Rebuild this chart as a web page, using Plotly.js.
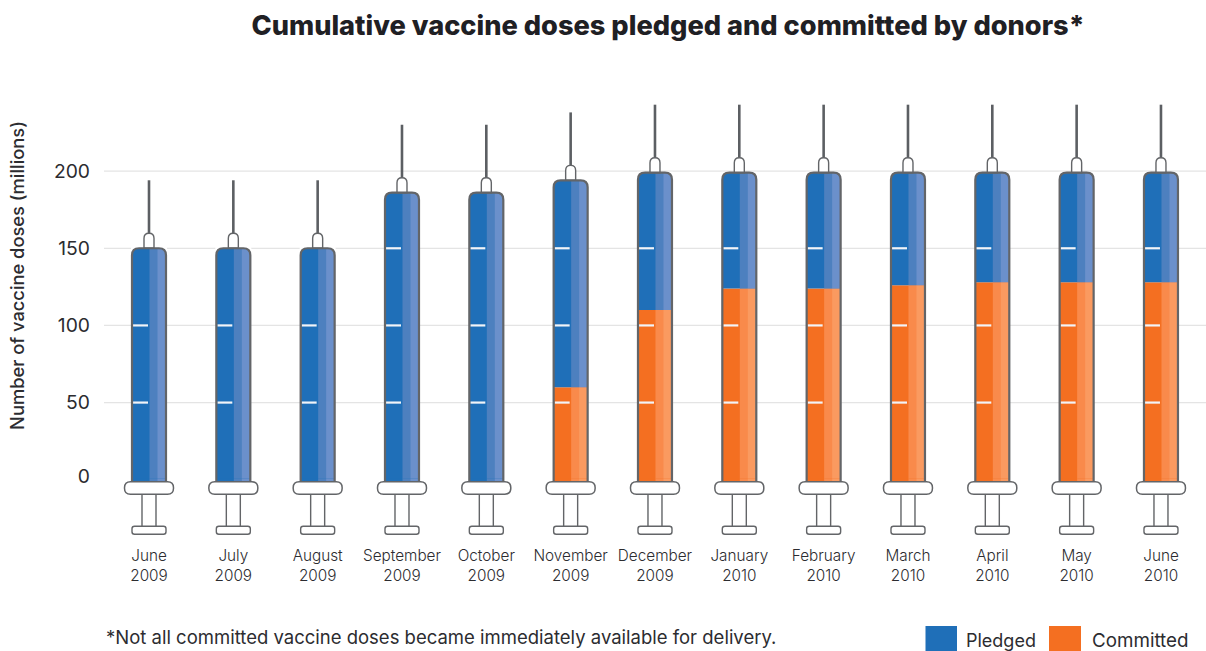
<!DOCTYPE html>
<html>
<head>
<meta charset="utf-8">
<script src="https://cdn.plot.ly/plotly-3.0.1.min.js"></script>
<style>html,body{margin:0;padding:0;background:#fff;overflow:hidden}</style>
</head>
<body>
<div id="chart" style="width:1206px;height:651px"></div>
<script>
// ---- data ----
const months = ["June","July","August","September","October","November","December","January","February","March","April","May","June"];
const years = ["2009","2009","2009","2009","2009","2009","2009","2010","2010","2010","2010","2010","2010"];
const committed = [0,0,0,0,0,60,110,124,124,126,128,128,128];
const totalPledged = [150,150,150,186,186,194,199,199,199,199,199,199,199];
const gridValues = [50,100,150,200];
const tickLabels = ["0","50","100","150","200"];
const tickPositions = [2.5,50,100,150,200];   // the reference draws its "0" label slightly above the true zero
const scaleMarks = [50,100,150];

// ---- styles ----
const FONT = "Inter, sans-serif";
const INK = "#2c2c30";
const OUT = "#636568";
const PXU = 84.33;
const blue = ["#1f6fb8","#4d80bf","#6b90cb"];
const orange = ["#f46f21","#f98a4b","#fa9a60"];
const bands = [[-17,17],[0.5,17],[8.5,17]];   // painted over one another, left edge of each band
const W = 1206, H = 651;
const M = {l:104,r:0,t:11,b:111};
const xs = months.map((_,i)=>i);
const labels = months.map((m,i)=>m+"<br>"+years[i]);
const pledgedPart = totalPledged.map((t,i)=>t-committed[i]);

const traces = [];
bands.forEach((b,k)=>{
  const width = (b[1]-b[0])/PXU, offset = b[0]/PXU;
  traces.push({type:"bar",name:"Committed",x:xs,y:committed,base:0,width:width,offset:offset,
    marker:{color:orange[k],line:{width:0}},hoverinfo:"skip",showlegend:false});
  traces.push({type:"bar",name:"Pledged",x:xs,y:pledgedPart,base:committed,width:width,offset:offset,
    marker:{color:blue[k],line:{width:0}},hoverinfo:"skip",showlegend:false});
});

const shapes = [];
// gridlines
gridValues.forEach(v=>shapes.push({type:"line",layer:"below",xref:"paper",yref:"y",x0:0,x1:1,y0:v,y1:v,line:{color:"#e4e4e4",width:1.2}}));

function rrect(x0,y0,x1,y1,r){
  return `M${x0+r},${y0} L${x1-r},${y0} Q${x1},${y0} ${x1},${y0+r} L${x1},${y1-r} Q${x1},${y1} ${x1-r},${y1} L${x0+r},${y1} Q${x0},${y1} ${x0},${y1-r} L${x0},${y0+r} Q${x0},${y0} ${x0+r},${y0} Z`;
}
function px(i,yv,path,fill,line,w){
  return {type:"path",layer:"above",xref:"x",yref:"y",xsizemode:"pixel",ysizemode:"pixel",xanchor:i,yanchor:yv,
    path:path,fillcolor:fill,line:{color:line,width:w}};
}
xs.forEach(i=>{
  const top = totalPledged[i];
  // barrel foot reaching the flange
  const cols = committed[i]>0?orange:blue;
  bands.forEach((b,k)=>shapes.push(px(i,0,`M${b[0]},1 L${b[1]},1 L${b[1]},-3 L${b[0]},-3 Z`,cols[k],"rgba(0,0,0,0)",0)));
  // white scale marks
  scaleMarks.filter(v=>v<top-1).forEach(v=>shapes.push({type:"line",layer:"above",xref:"x",yref:"y",xsizemode:"pixel",xanchor:i,x0:-16,x1:-1,y0:v,y1:v,line:{color:"#f2f4f8",width:2.2}}));
  // needle and hub
  shapes.push(px(i,top,"M0,13 L0,68","rgba(0,0,0,0)","#5c5f63",2.6));
  shapes.push(px(i,top,"M-5,0 L-5,10 Q-5,15 0,15 Q5,15 5,10 L5,0 Z","#ffffff",OUT,1.4));
  // rounded shoulders: mask the square corners of the bars, then outline
  shapes.push(px(i,top,"M-18,1 L-18,-7 L-17,-7 Q-17,0 -10,0 L-10,1 Z","#ffffff","rgba(0,0,0,0)",0));
  shapes.push(px(i,top,"M18,1 L18,-7 L17,-7 Q17,0 10,0 L10,1 Z","#ffffff","rgba(0,0,0,0)",0));
  const yTopPx = top*1.543;
  shapes.push(px(i,0,`M-17,-2 L-17,${yTopPx-7} Q-17,${yTopPx} -10,${yTopPx} L10,${yTopPx} Q17,${yTopPx} 17,${yTopPx-7} L17,-2`,"rgba(0,0,0,0)",OUT,2.2));
  // plunger stem, plunger base, flange
  shapes.push(px(i,0,"M-7,-14 L-7,-47 L7,-47 L7,-14 Z","#ffffff",OUT,1.4));
  shapes.push(px(i,0,rrect(-17,-54.5,17,-46.5,2.5),"#ffffff",OUT,1.4));
  shapes.push(px(i,0,rrect(-24.5,-14.5,24.5,-2,6),"#ffffff",OUT,1.5));
});

// legend swatches, cut by the bottom edge like the reference
const PW = W-M.l-M.r, PH = H-M.t-M.b;
const fx = p=>(p-M.l)/PW, fy = p=>1-(p-M.t)/PH;
[[925.5,957,blue[0]],[1049,1081,orange[0]]].forEach(s=>shapes.push({type:"rect",layer:"above",xref:"paper",yref:"paper",
  x0:fx(s[0]),x1:fx(s[1]),y0:fy(626),y1:fy(660),fillcolor:s[2],line:{width:0}}));

const ann = (text,x,y,size,anchor)=>({text:text,xref:"paper",yref:"paper",x:fx(x),y:fy(y),xanchor:anchor||"left",yanchor:"middle",showarrow:false,
  xshift:-1,font:{family:FONT,size:size,color:INK}});

const layout = {
  width:W,height:H,margin:M,paper_bgcolor:"#fff",plot_bgcolor:"#fff",barmode:"overlay",showlegend:false,
  title:{text:"Cumulative vaccine doses pledged and committed by donors*",xref:"paper",x:fx(668),xanchor:"center",yref:"container",y:1-25/651,yanchor:"middle",
    font:{family:FONT,size:27.2,weight:800,color:"#1f2024"}},
  xaxis:{range:[-0.5336,12.534],tickmode:"array",tickvals:xs,ticktext:labels,showgrid:false,zeroline:false,showline:false,ticks:"",ticklabelstandoff:5,
    tickfont:{family:FONT,size:15.3,color:INK,weight:300},automargin:false,fixedrange:true},
  yaxis:{range:[-39.08,303.8],tickmode:"array",tickvals:tickPositions,ticktext:tickLabels,showgrid:false,zeroline:false,showline:false,ticks:"",
    ticklabelstandoff:13,tickfont:{family:FONT,size:19.3,color:INK,weight:400},automargin:false,fixedrange:true,
    title:{text:"Number of vaccine doses (millions)",standoff:24,font:{family:FONT,size:18.3,weight:500,color:INK}}},
  shapes:shapes,
  annotations:[
    ann("*Not all committed vaccine doses became immediately available for delivery.",105,637,18.5),
    ann("Pledged",965,640,18),
    ann("Committed",1091,640,18.8)
  ]
};
Plotly.newPlot("chart",traces,layout,{displayModeBar:false,staticPlot:true});
</script>
</body>
</html>
